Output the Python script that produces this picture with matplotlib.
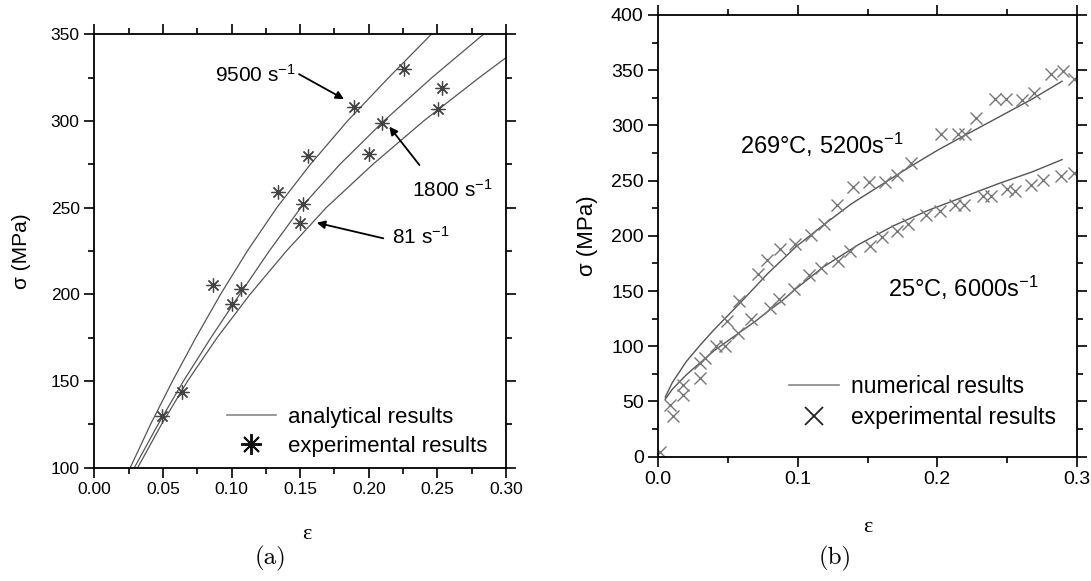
import matplotlib
matplotlib.use("Agg")
import matplotlib.pyplot as plt
from matplotlib.lines import Line2D
from matplotlib.ticker import MultipleLocator, FormatStrFormatter

# ======================
# DATA (a) - analytical curves + experiments
# ======================
sig_a = [100, 125, 150, 175, 200, 225, 250, 275, 300, 325, 350]
eps_9500 = [0.0262, 0.0410, 0.0570, 0.0740, 0.0920, 0.1115, 0.1330, 0.1575, 0.1845, 0.2145, 0.2456]
eps_1800 = [0.0292, 0.0465, 0.0650, 0.0850, 0.1060, 0.1275, 0.1505, 0.1790, 0.2110, 0.2460, 0.2836]
sig_81 = [100, 125, 150, 175, 200, 225, 250, 275, 300, 325, 336.5]
eps_81 = [0.0316, 0.0490, 0.0680, 0.0895, 0.1135, 0.1400, 0.1690, 0.2030, 0.2400, 0.2805, 0.3000]

exp_eps_a = [0.0496, 0.0641, 0.0866, 0.1003, 0.1071, 0.1342, 0.1499, 0.1519, 0.1560,
             0.1889, 0.2000, 0.2094, 0.2259, 0.2507, 0.2532]
exp_sig_a = [130.0, 143.8, 205.2, 194.2, 203.1, 258.8, 241.2, 252.0, 279.7,
             307.8, 280.9, 298.6, 329.8, 306.7, 318.8]

# ======================
# DATA (b) - numerical curves + experiments
# ======================
num_eps_hot = [0.005, 0.010, 0.020, 0.030, 0.040, 0.050, 0.060, 0.0786, 0.0986, 0.1186,
               0.1385, 0.1585, 0.1785, 0.2009, 0.2184, 0.2434, 0.2683, 0.2895]
num_sig_hot = [54, 67, 86, 101, 115, 128, 141, 166, 190, 210,
               229, 245, 261, 278, 290, 307, 324, 340]
num_eps_cold = [0.005, 0.010, 0.020, 0.030, 0.040, 0.050, 0.060, 0.070, 0.080, 0.0886,
                0.0986, 0.1186, 0.1435, 0.1685, 0.1934, 0.2184, 0.2434, 0.2683, 0.2895]
num_sig_cold = [52, 61, 74, 85, 96, 105, 114, 123, 133, 141,
                152, 172, 192, 209, 223, 235, 247, 258, 269]

exp_eps_hot = [0.0012, 0.0108, 0.018, 0.0337, 0.0493, 0.0577, 0.0714, 0.0782, 0.0876, 0.0981,
               0.1098, 0.1186, 0.128, 0.1395, 0.1508, 0.1623, 0.1708, 0.1809, 0.2025, 0.2148,
               0.2201, 0.2278, 0.2413, 0.2494, 0.2610, 0.2694, 0.2814, 0.2905, 0.298]
exp_sig_hot = [4.5, 36.4, 65.2, 89.5, 122.7, 140.9, 165.2, 178.2, 188.2, 192.8,
               200.4, 211.0, 228.0, 244.0, 248.5, 249.1, 255.2, 266.1, 292.4, 292.4,
               292.4, 306.7, 323.6, 323.6, 322.8, 329.4, 346.1, 349.0, 342.0]
exp_eps_cold = [0.0084, 0.018, 0.0296, 0.0301, 0.0416, 0.0481, 0.057, 0.0662, 0.0801, 0.0866,
                0.097, 0.1082, 0.1167, 0.1287, 0.1378, 0.1515, 0.1605, 0.1708, 0.1792, 0.1917,
                0.2020, 0.2124, 0.2189, 0.2326, 0.2388, 0.2501, 0.2561, 0.2670, 0.2759, 0.2886, 0.298]
exp_sig_cold = [47, 56.1, 84.9, 71.3, 100, 100, 112.2, 124.3, 134.9, 142.5,
                152.2, 164.3, 170.4, 177.3, 186.4, 190.9, 198.5, 204.5, 210.6, 219.1,
                222.2, 228.2, 228.2, 236.4, 236.4, 242.5, 240.9, 246.1, 250.9, 254.5, 257]

# ======================
# STYLE
# ======================
plt.rcParams['font.family'] = ['Liberation Sans', 'DejaVu Sans']
plt.rcParams['mathtext.fontset'] = 'custom'
plt.rcParams['mathtext.rm'] = 'Liberation Sans'
plt.rcParams['mathtext.default'] = 'regular'

LINE = '#555555'
ASTER = (8, 2, 0)

fig = plt.figure(figsize=(10.91, 5.81), dpi=100)
ax1 = fig.add_axes([0.0864, 0.195, 0.3774, 0.746])
ax2 = fig.add_axes([0.6034, 0.214, 0.3835, 0.7603])


def style_axes(ax, labsize):
    for s in ax.spines.values():
        s.set_linewidth(1.3)
    ax.tick_params(which='both', direction='out', top=True, right=True,
                   labeltop=False, labelright=False, width=1.2, labelsize=labsize)
    ax.tick_params(which='major', length=7)
    ax.tick_params(which='minor', length=4)


# ---------- (a) ----------
ax1.plot(eps_9500, sig_a, color=LINE, lw=0.9)
ax1.plot(eps_1800, sig_a, color=LINE, lw=0.9)
ax1.plot(eps_81, sig_81, color=LINE, lw=0.9)
ax1.plot(exp_eps_a, exp_sig_a, ls='none', marker=ASTER, ms=10, mew=0.9, color='#444444')
ax1.set_xlim(0, 0.30)
ax1.set_ylim(100, 350)
ax1.xaxis.set_major_locator(MultipleLocator(0.05))
ax1.xaxis.set_minor_locator(MultipleLocator(0.025))
ax1.yaxis.set_major_locator(MultipleLocator(50))
ax1.yaxis.set_minor_locator(MultipleLocator(25))
ax1.xaxis.set_major_formatter(FormatStrFormatter('%.2f'))
style_axes(ax1, 12.5)
ax1.set_xlabel('ε', family='Liberation Serif', fontsize=16, va='center')
ax1.xaxis.set_label_coords(0.517, -0.155)
ax1.set_ylabel('σ (MPa)', fontsize=15, va='center')
ax1.yaxis.set_label_coords(-0.177, 0.5)

arrow = dict(arrowstyle='-|>', color='black', lw=1.3, mutation_scale=12, shrinkA=0, shrinkB=0)
ax1.annotate('', xy=(0.1820, 312.6), xytext=(0.1492, 327.0), arrowprops=arrow)
ax1.annotate('', xy=(0.2150, 296.7), xytext=(0.2369, 274.6), arrowprops=arrow)
ax1.annotate('', xy=(0.1621, 241.3), xytext=(0.2106, 232.3), arrowprops=arrow)
ax1.text(0.0883, 326.5, '9500 s$^{-1}$', fontsize=15, va='center')
ax1.text(0.2313, 260.1, '1800 s$^{-1}$', fontsize=15, va='center')
ax1.text(0.2167, 233.3, '81 s$^{-1}$', fontsize=15, va='center')

h1 = [Line2D([], [], color='#888888', lw=1.2),
      Line2D([], [], ls='none', marker=ASTER, ms=15, mew=1.4, color='#111111')]
ax1.legend(h1, ['analytical results', 'experimental results'], loc='upper left',
           bbox_to_anchor=(0.322, 0.14), frameon=False, fontsize=16, borderpad=0,
           borderaxespad=0, handlelength=2.2, handletextpad=0.55, labelspacing=0.35)

# ---------- (b) ----------
ax2.plot(num_eps_hot, num_sig_hot, color=LINE, lw=1.0)
ax2.plot(num_eps_cold, num_sig_cold, color=LINE, lw=1.0)
ax2.plot(exp_eps_hot, exp_sig_hot, ls='none', marker='x', ms=9, mew=1.0, color='#777777')
ax2.plot(exp_eps_cold, exp_sig_cold, ls='none', marker='x', ms=9, mew=1.0, color='#777777')
ax2.set_xlim(0, 0.3)
ax2.set_ylim(0, 400)
ax2.xaxis.set_major_locator(MultipleLocator(0.1))
ax2.xaxis.set_minor_locator(MultipleLocator(0.05))
ax2.yaxis.set_major_locator(MultipleLocator(50))
ax2.yaxis.set_minor_locator(MultipleLocator(25))
ax2.xaxis.set_major_formatter(FormatStrFormatter('%.1f'))
style_axes(ax2, 14)
ax2.set_xlabel('ε', family='Liberation Serif', fontsize=16, va='center')
ax2.xaxis.set_label_coords(0.5, -0.16)
ax2.set_ylabel('σ (MPa)', fontsize=16, va='center')
ax2.yaxis.set_label_coords(-0.170, 0.5)

ax2.text(0.0586, 282.7, '269°C, 5200s$^{-1}$', fontsize=17, va='center')
ax2.text(0.1647, 152.8, '25°C, 6000s$^{-1}$', fontsize=17, va='center')

h2 = [Line2D([], [], color='#888888', lw=1.2),
      Line2D([], [], ls='none', marker='x', ms=13, mew=1.3, color='#222222')]
ax2.legend(h2, ['numerical results', 'experimental results'], loc='upper left',
           bbox_to_anchor=(0.312, 0.185), frameon=False, fontsize=16.5, borderpad=0,
           borderaxespad=0, handlelength=2.2, handletextpad=0.5, labelspacing=0.35)

fig.text(270.7 / 1091, 1 - 558.3 / 581, '(a)', family='cmr10', fontsize=18, ha='center', va='center')
fig.text(835.6 / 1091, 1 - 558.3 / 581, '(b)', family='cmr10', fontsize=18, ha='center', va='center')

fig.savefig('out.png', dpi=100)
